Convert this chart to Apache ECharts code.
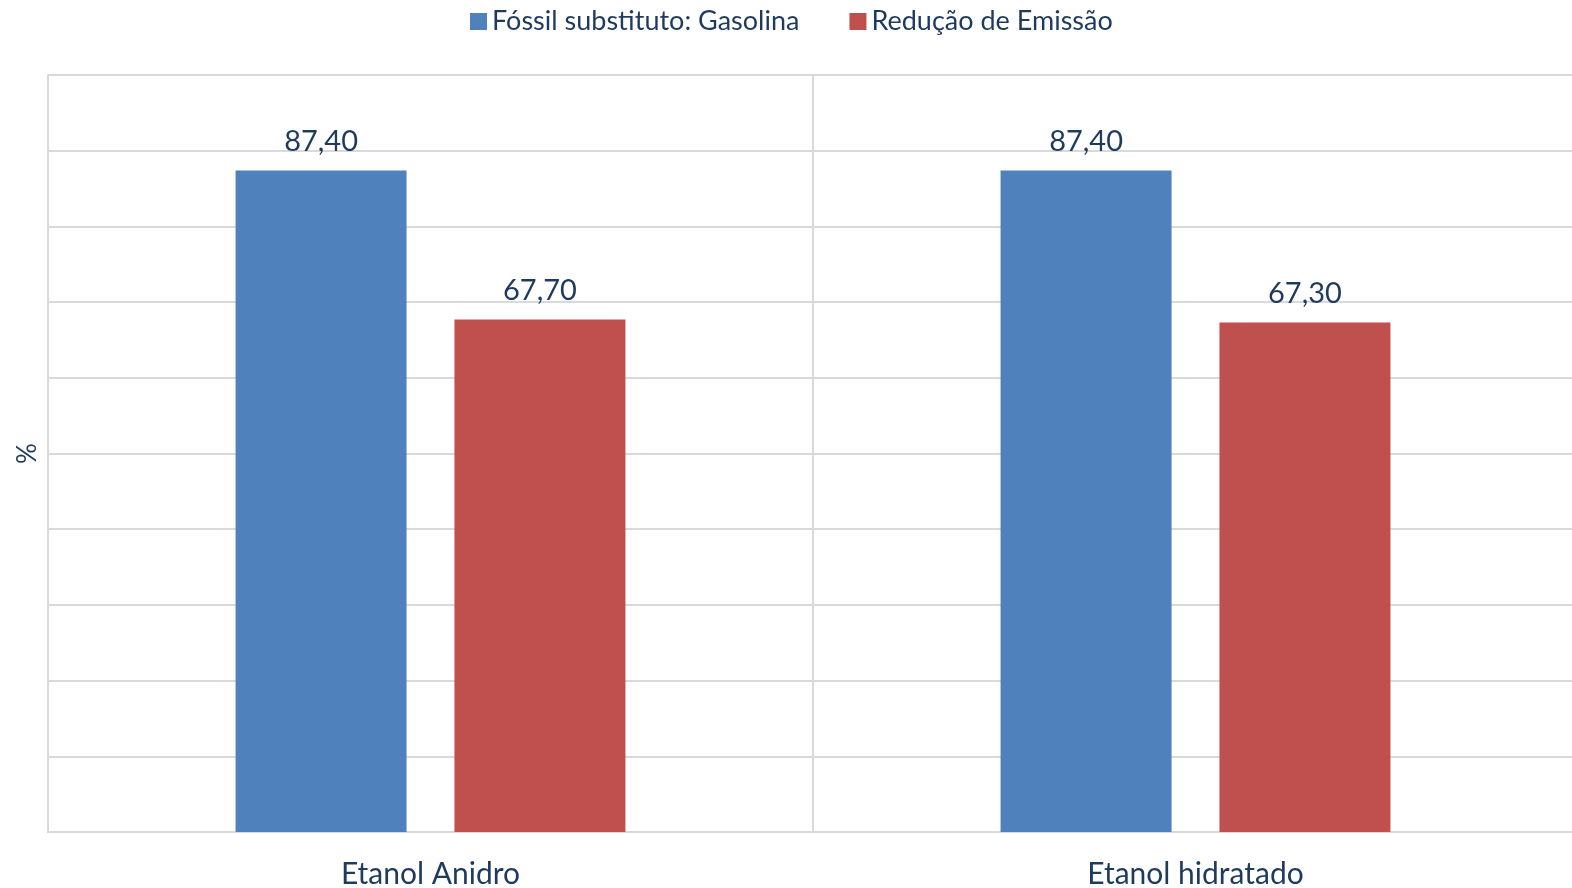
<!DOCTYPE html>
<html><head><meta charset="utf-8">
<script src="https://cdn.jsdelivr.net/npm/echarts@6/dist/echarts.min.js"></script>
<style>html,body{margin:0;padding:0;background:#fff}#c{width:1572px;height:888px}</style>
</head><body><div id="c"></div>
<script>
const categories = ['Etanol Anidro', 'Etanol hidratado'];
const seriesNames = ['Fóssil substituto: Gasolina', 'Redução de Emissão'];
const fossil = [87.4, 87.4];
const reducao = [67.7, 67.3];
const yMin = 0, yMax = 100, yInterval = 10;

const textColor = '#1F3A5F';
const font = 'Lato';
const chart = echarts.init(document.getElementById('c'));
const lbl = {show: true, position: 'top', distance: 14, color: textColor, fontSize: 29, fontFamily: font,
  formatter: p => p.value.toFixed(2).replace('.', ',')};
chart.setOption({
  animation: false,
  textStyle: {fontFamily: font},
  legend: {top: 3, left: 465, itemWidth: 17, itemHeight: 17, itemGap: 50, icon: 'rect',
    textStyle: {color: textColor, fontSize: 27, fontFamily: font}},
  grid: {left: 48, right: -6, top: 75, bottom: 56, containLabel: false, outerBoundsMode: 'none'},
  xAxis: {type: 'category', data: categories,
    axisLine: {lineStyle: {color: '#D9D9D9', width: 2}}, axisTick: {show: false},
    splitLine: {show: true, lineStyle: {color: '#D9D9D9', width: 2}},
    axisLabel: {color: textColor, fontSize: 30, fontFamily: font, margin: 27}},
  yAxis: {type: 'value', min: yMin, max: yMax, interval: yInterval,
    name: '%', nameLocation: 'middle', nameGap: 7, nameRotate: 90,
    nameTextStyle: {color: textColor, fontSize: 26, fontFamily: font},
    axisLabel: {show: false}, axisTick: {show: false},
    axisLine: {show: true, lineStyle: {color: '#D9D9D9', width: 2}},
    splitLine: {lineStyle: {color: '#D9D9D9', width: 2}}},
  series: [
    {name: seriesNames[0], type: 'bar', data: fossil, barWidth: 171, barGap: '28%',
     itemStyle: {color: '#4F81BD'}, label: lbl},
    {name: seriesNames[1], type: 'bar', data: reducao, barWidth: 171,
     itemStyle: {color: '#C0504D'}, label: lbl}
  ]
});
</script></body></html>
